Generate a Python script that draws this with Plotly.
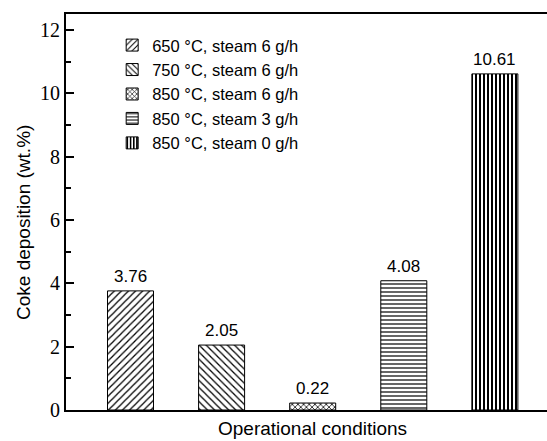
import plotly.graph_objects as go

categories = ["650 °C, steam 6 g/h", "750 °C, steam 6 g/h", "850 °C, steam 6 g/h",
              "850 °C, steam 3 g/h", "850 °C, steam 0 g/h"]
coke = [3.76, 2.05, 0.22, 4.08, 10.61]
labels = ["3.76", "2.05", "0.22", "4.08", "10.61"]
y_ticks = [0, 2, 4, 6, 8, 10, 12]

patterns = [("/", 5, 0.25), ("\\", 5, 0.25), ("x", 4, 0.35), ("-", 4, 0.3), ("|", 4, 0.5)]

fig = go.Figure()
annotations = []
for i, (cat, val, lab) in enumerate(zip(categories, coke, labels)):
    shape, size, sol = patterns[i]
    fig.add_trace(go.Bar(
        x=[i], y=[val], name=cat, width=0.505,
        marker=dict(color="white", line=dict(color="black", width=1),
                    pattern=dict(shape=shape, size=size, solidity=sol,
                                 fgcolor="black", bgcolor="white", fillmode="replace")),
    ))
    annotations.append(dict(text=lab, x=i, y=val, xref="x", yref="y",
                            xanchor="center", yanchor="bottom", yshift=3, showarrow=False,
                            font=dict(family="Liberation Sans, Arial", size=17, color="black")))

annotations += [
    dict(text="Operational conditions", x=0.5, xref="paper", y=-18/396, yref="paper",
         xanchor="center", yanchor="middle", showarrow=False,
         font=dict(family="Liberation Sans, Arial", size=19, color="black"), xshift=6),
    dict(text="Coke deposition (wt.%)", x=-43/481, xref="paper", y=0.5, yref="paper",
         textangle=-90, xanchor="center", yanchor="middle", showarrow=False,
         font=dict(family="Liberation Sans, Arial", size=19, color="black"), yshift=-11),
]

fig.update_layout(
    width=547, height=441,
    margin=dict(l=66, r=0, t=14, b=31),
    paper_bgcolor="white", plot_bgcolor="white",
    barmode="overlay",
    showlegend=True,
    legend=dict(x=0.096, y=0.965, xanchor="left", yanchor="top",
                font=dict(family="Liberation Sans, Arial", size=16.5, color="black"),
                bgcolor="rgba(0,0,0,0)", tracegroupgap=0),
    xaxis=dict(range=[-0.708, 4.572], showticklabels=False, ticks="",
               showline=True, linecolor="black", linewidth=2, mirror=True,
               showgrid=False, zeroline=False, automargin=False),
    yaxis=dict(range=[0, 12.5], tickvals=y_ticks, ticks="inside", ticklen=8,
               tickwidth=1.5, tickcolor="black",
               minor=dict(tickvals=[1, 3, 5, 7, 9, 11], ticks="inside", ticklen=5,
                          tickwidth=1.5, tickcolor="black"),
               tickfont=dict(family="Liberation Serif, Times New Roman", size=20, color="black"),
               showline=True, linecolor="black", linewidth=2, mirror=False,
               showgrid=False, zeroline=False, automargin=False),
    annotations=annotations,
)

fig.write_html("out.html", config={"displayModeBar": False},
               post_script="document.body.style.margin='0';")
